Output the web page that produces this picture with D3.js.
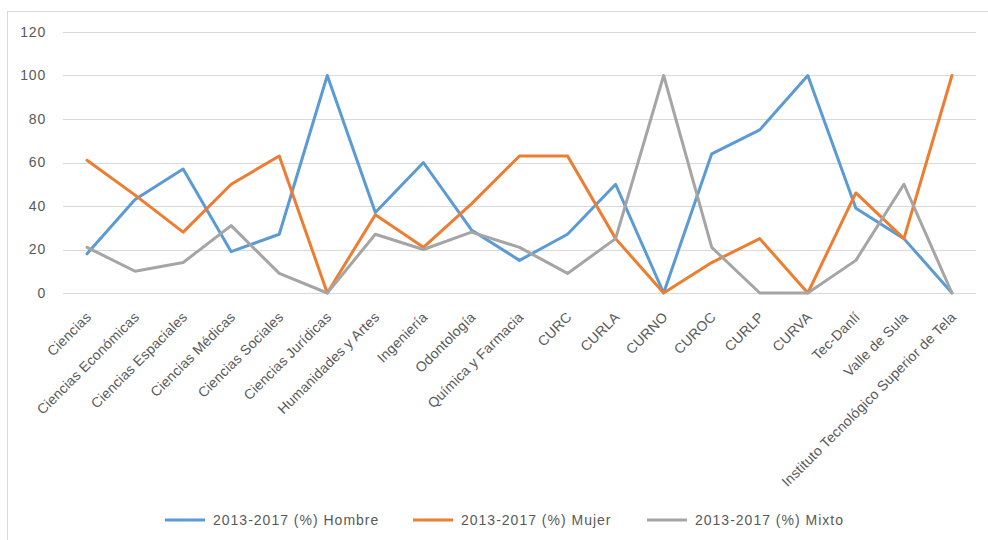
<!DOCTYPE html>
<html><head><meta charset="utf-8">
<script src="https://cdn.jsdelivr.net/npm/d3@7"></script>
<style>
html,body{margin:0;padding:0;background:#fff;}
svg{display:block;}
text{font-family:"Liberation Sans","Open Sans",sans-serif;fill:#595959;}
</style></head>
<body>
<svg id="chart" width="988" height="540"></svg>
<script>
const categories = ["Ciencias","Ciencias Económicas","Ciencias Espaciales","Ciencias Médicas","Ciencias Sociales","Ciencias Jurídicas","Humanidades y Artes","Ingeniería","Odontología","Química y Farmacia","CURC","CURLA","CURNO","CUROC","CURLP","CURVA","Tec-Danlí","Valle de Sula","Instituto Tecnológico Superior de Tela"];
const hombre = [18,43,57,19,27,100,37,60,29,15,27,50,0,64,75,100,39,25,0];
const mujer  = [61,45,28,50,63,0,36,21,41,63,63,25,0,14,25,0,46,25,100];
const mixto  = [21,10,14,31,9,0,27,20,28,21,9,25,100,21,0,0,15,50,0];
const seriesNames = ["2013-2017 (%) Hombre","2013-2017 (%) Mujer","2013-2017 (%) Mixto"];
const seriesColors = ["#5B9BD5","#ED7D31","#A5A5A5"];
const yTicks = [0,20,40,60,80,100,120];

const svg = d3.select("#chart");
svg.append("line").attr("x1",7).attr("x2",988).attr("y1",11.5).attr("y2",11.5).attr("stroke","#D9D9D9");
svg.append("line").attr("x1",7.5).attr("x2",7.5).attr("y1",11).attr("y2",540).attr("stroke","#D9D9D9");

const x = d3.scaleBand().domain(categories).range([63,976]);
const y = d3.scaleLinear().domain([0,120]).range([293,32]);

svg.append("g").selectAll("line").data(yTicks).join("line")
  .attr("x1",63).attr("x2",976)
  .attr("y1",d=>Math.round(y(d))+0.5).attr("y2",d=>Math.round(y(d))+0.5)
  .attr("stroke","#D9D9D9").attr("stroke-width",1);

const yAxis = d3.axisLeft(y).tickValues(yTicks).tickSize(0).tickPadding(0);
const gy = svg.append("g").attr("transform","translate(46,0)").call(yAxis);
gy.select(".domain").remove();
gy.selectAll("text").attr("font-size",14).style("fill","#595959")
  .style("font-family","Liberation Sans, sans-serif").style("letter-spacing","0.8px");

const xAxis = d3.axisBottom(x).tickSize(0).tickPadding(0);
const gx = svg.append("g").attr("transform","translate(0,293)").call(xAxis);
gx.select(".domain").remove();
gx.selectAll("text")
  .attr("font-size",14)
  .style("fill","#595959").style("font-family","Liberation Sans, sans-serif")
  .style("letter-spacing","0.2px")
  .attr("text-anchor","end")
  .attr("dy","0")
  .attr("transform","translate(5,25) rotate(-45)");

const data = [hombre,mujer,mixto];
const line = d3.line().x((d,i)=>x(categories[i])+x.bandwidth()/2).y(d=>y(d));
svg.append("g").selectAll("path").data(data).join("path")
  .attr("d",line).attr("fill","none")
  .attr("stroke",(d,i)=>seriesColors[i]).attr("stroke-width",3)
  .attr("stroke-linejoin","round").attr("stroke-linecap","round");

const legendX = [165,413,647];
const lg = svg.append("g");
seriesNames.forEach((n,i)=>{
  lg.append("line").attr("x1",legendX[i]).attr("x2",legendX[i]+40).attr("y1",520).attr("y2",520)
    .attr("stroke",seriesColors[i]).attr("stroke-width",3);
  lg.append("text").attr("x",legendX[i]+48).attr("y",525).attr("font-size",14)
    .style("letter-spacing","1px").style("fill","#595959").text(n);
});
</script>
</body></html>
